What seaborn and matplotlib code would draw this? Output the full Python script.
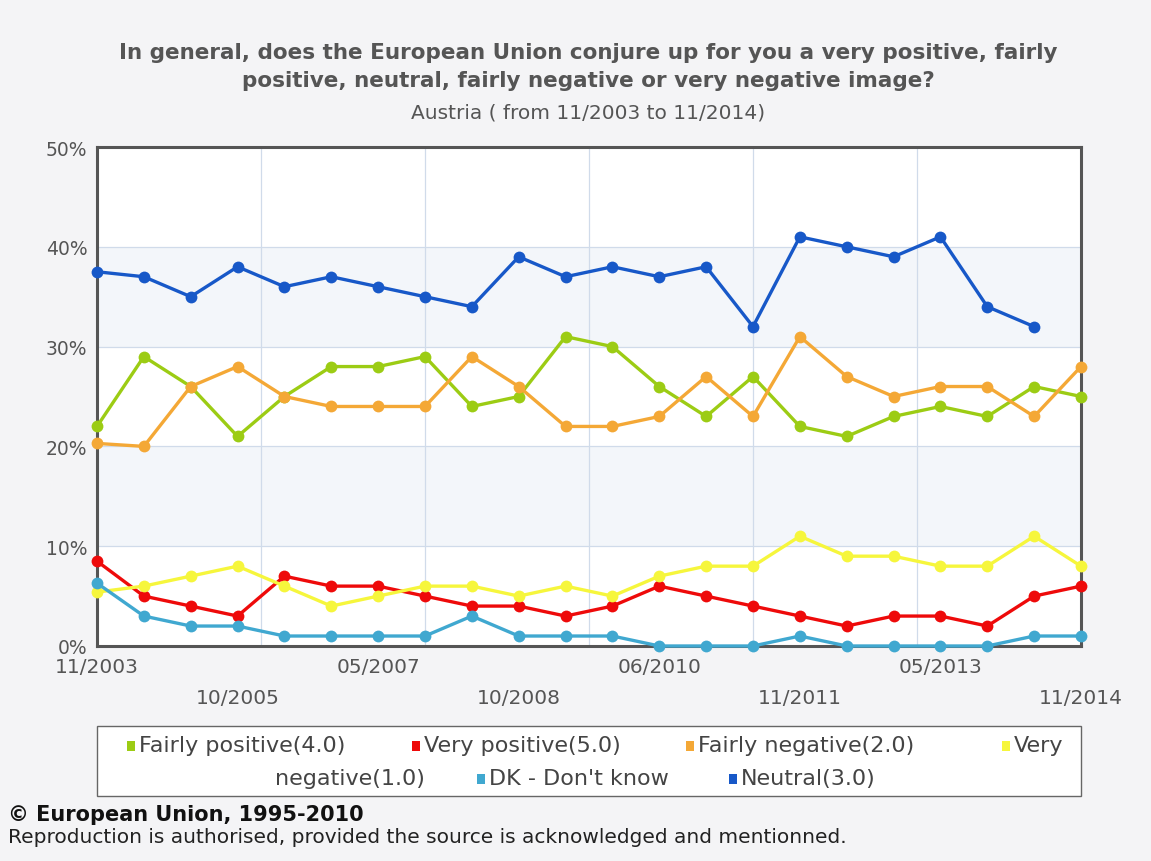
import matplotlib
matplotlib.use("Agg")
import matplotlib.pyplot as plt
from matplotlib.patches import Rectangle
import seaborn as sns
import pandas as pd
import numpy as np

sns.set_style('white')
plt.rcParams['font.family'] = ['DejaVu Sans']

# survey waves 11/2003 .. 11/2014 (22 waves), only some labelled
n_waves = 22
tick_pos_top = [0, 6, 12, 18]
tick_lab_top = ['11/2003', '05/2007', '06/2010', '05/2013']
tick_pos_low = [3, 9, 15, 21]
tick_lab_low = ['10/2005', '10/2008', '11/2011', '11/2014']

fairly_positive = [22, 29, 26, 21, 25, 28, 28, 29, 24, 25, 31, 30, 26, 23, 27, 22, 21, 23, 24, 23, 26, 25]
very_positive = [8.5, 5, 4, 3, 7, 6, 6, 5, 4, 4, 3, 4, 6, 5, 4, 3, 2, 3, 3, 2, 5, 6]
fairly_negative = [20.3, 20, 26, 28, 25, 24, 24, 24, 29, 26, 22, 22, 23, 27, 23, 31, 27, 25, 26, 26, 23, 28]
very_negative = [5.4, 6, 7, 8, 6, 4, 5, 6, 6, 5, 6, 5, 7, 8, 8, 11, 9, 9, 8, 8, 11, 8]
dont_know = [6.3, 3, 2, 2, 1, 1, 1, 1, 3, 1, 1, 1, 0, 0, 0, 1, 0, 0, 0, 0, 1, 1]
neutral = [37.5, 37, 35, 38, 36, 37, 36, 35, 34, 39, 37, 38, 37, 38, 32, 41, 40, 39, 41, 34, 32, np.nan]

series_names = ['Fairly positive(4.0)', 'Very positive(5.0)', 'Fairly negative(2.0)',
                'Very negative(1.0)', 'DK - Don\'t know', 'Neutral(3.0)']
series_vals = [fairly_positive, very_positive, fairly_negative, very_negative, dont_know, neutral]
colors = ['#9ccc14', '#ee0a0a', '#f4a836', '#f6f63c', '#40a8d0', '#1758c8']

rows = []
for name, vals in zip(series_names, series_vals):
    for i, v in enumerate(vals):
        rows.append({'wave': i, 'value': v, 'series': name})
df = pd.DataFrame(rows).dropna()

W, H = 1151, 862
fig = plt.figure(figsize=(W / 100, H / 100), dpi=100, facecolor='#f4f4f6')

def fx(x):
    return x / W

def fy(y):
    return 1 - y / H

ax = fig.add_axes([fx(97), fy(647), fx(1081) - fx(97), fy(148) - fy(647)])
ax.set_facecolor('white')
for lo in (10, 30):
    ax.axhspan(lo, lo + 10, color='#f3f6fa', zorder=0, lw=0)

sns.lineplot(data=df, x='wave', y='value', hue='series', hue_order=series_names,
             palette=dict(zip(series_names, colors)), marker='o', markersize=8.5,
             markeredgewidth=0, linewidth=2.4, legend=False, ax=ax, zorder=3)
for ln in ax.lines:
    ln.set_clip_on(False)

ax.set_xlim(0, n_waves - 1)
ax.set_ylim(0, 50)
ax.set_yticks(range(0, 51, 10))
ax.set_yticklabels([f'{v}%' for v in range(0, 51, 10)])
for v in range(10, 50, 10):
    ax.axhline(v, color='#d0dbea', lw=0.9, zorder=1)
for k in range(1, 6):
    ax.axvline((n_waves - 1) * k / 6, color='#d0dbea', lw=0.9, zorder=1)

ax.set_xticks(tick_pos_top)
ax.set_xticklabels(tick_lab_top)
ax.set_xticks(tick_pos_low, minor=True)
ax.set_xticklabels(tick_lab_low, minor=True)
ax.tick_params(axis='x', which='major', length=0, pad=8, labelsize=14.5, labelcolor='#555555')
ax.tick_params(axis='x', which='minor', length=0, pad=30, labelsize=14.5, labelcolor='#555555')
ax.tick_params(axis='y', length=0, pad=7, labelsize=13.5, labelcolor='#555555')
ax.set_xlabel('')
ax.set_ylabel('')
for sp in ax.spines.values():
    sp.set_visible(True)
    sp.set_color('#555555')
    sp.set_linewidth(2.2)
    sp.set_zorder(2)

# titles
fig.text(fx(588), fy(53), 'In general, does the European Union conjure up for you a very positive, fairly',
         ha='center', va='center', fontsize=15.5, fontweight='bold', color='#555555')
fig.text(fx(588), fy(81), 'positive, neutral, fairly negative or very negative image?',
         ha='center', va='center', fontsize=15.5, fontweight='bold', color='#555555')
fig.text(fx(588), fy(113), 'Austria ( from 11/2003 to 11/2014)',
         ha='center', va='center', fontsize=14.5, color='#555555')

# legend box
fig.add_artist(Rectangle((fx(97), fy(797)), fx(1081) - fx(97), fy(727) - fy(797),
                         transform=fig.transFigure, facecolor='white', edgecolor='#666666', lw=1))
leg_items = [(131, 746, 0, 'Fairly positive(4.0)'), (416, 746, 1, 'Very positive(5.0)'),
             (690, 746, 2, 'Fairly negative(2.0)'), (1006, 746, 3, 'Very'),
             (481, 779, 4, 'DK - Don\'t know'), (733, 779, 5, 'Neutral(3.0)')]
for x, y, ci, lab in leg_items:
    fig.add_artist(Rectangle((fx(x - 4), fy(y + 6)), fx(8), fy(0) - fy(10),
                             transform=fig.transFigure, facecolor=colors[ci], lw=0))
    fig.text(fx(x + 8), fy(y), lab, ha='left', va='center', fontsize=16, color='#444444')
fig.text(fx(275), fy(779), 'negative(1.0)', ha='left', va='center', fontsize=16, color='#444444')

# footer
fig.text(fx(8), fy(815), '© European Union, 1995-2010', ha='left', va='center',
         fontsize=15, fontweight='bold', color='#111111')
fig.text(fx(8), fy(838), 'Reproduction is authorised, provided the source is acknowledged and mentionned.',
         ha='left', va='center', fontsize=14.5, color='#222222')

fig.savefig('out.png', dpi=100, facecolor=fig.get_facecolor())
